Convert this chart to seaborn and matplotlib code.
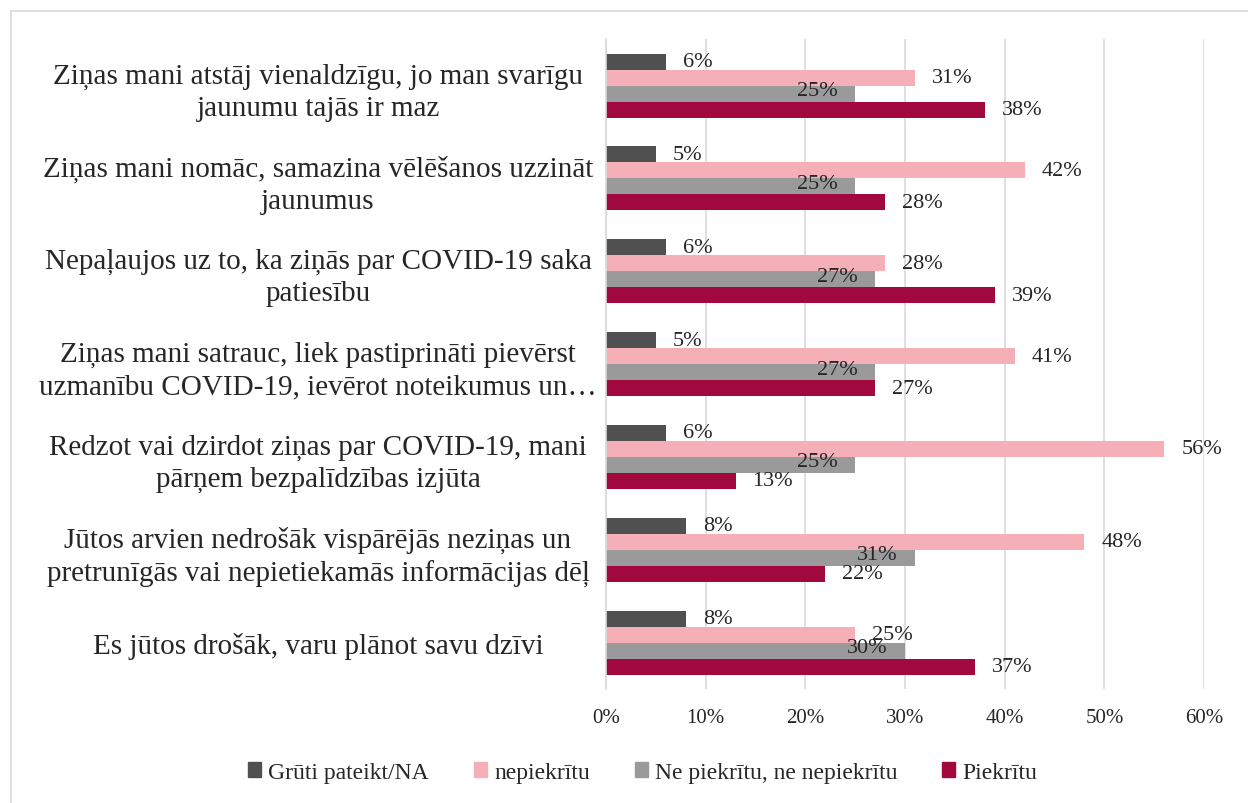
import matplotlib
matplotlib.use("Agg")
import matplotlib.pyplot as plt
import matplotlib.patches as mpatches
import pandas as pd
import seaborn as sns


statements = [
  "Ziņas mani atstāj vienaldzīgu, jo man svarīgu\njaunumu tajās ir maz",
  "Ziņas mani nomāc, samazina vēlēšanos uzzināt\njaunumus",
  "Nepaļaujos uz to, ka ziņās par COVID-19 saka\npatiesību",
  "Ziņas mani satrauc, liek pastiprināti pievērst\nuzmanību COVID-19, ievērot noteikumus un…",
  "Redzot vai dzirdot ziņas par COVID-19, mani\npārņem bezpalīdzības izjūta",
  "Jūtos arvien nedrošāk vispārējās neziņas un\npretrunīgās vai nepietiekamās informācijas dēļ",
  "Es jūtos drošāk, varu plānot savu dzīvi",
]
series_names = ["Grūti pateikt/NA", "nepiekrītu", "Ne piekrītu, ne nepiekrītu", "Piekrītu"]
hard_to_say = [6, 5, 6, 5, 6, 8, 8]
disagree = [31, 42, 28, 41, 56, 48, 25]
neutral = [25, 25, 27, 27, 25, 31, 30]
agree = [38, 28, 39, 27, 13, 22, 37]
ticks = [0, 10, 20, 30, 40, 50, 60]

colors = ["#505050", "#F5B0B7", "#9A9A9A", "#A0083E"]


def build_frame():
  rows = []
  for name, vals in zip(series_names, [hard_to_say, disagree, neutral, agree]):
    for stmt, v in zip(statements, vals):
      rows.append({"statement": stmt, "series": name, "value": v})
  return pd.DataFrame(rows)


def main():
  sns.set_style("white")
  plt.rcParams["font.family"] = ["Liberation Serif", "DejaVu Serif"]

  df = build_frame()
  fig = plt.figure(figsize=(12.48, 8.04), dpi=100)
  ax = fig.add_axes([0.4856, 0.1418, 0.4792, 0.8082])

  sns.barplot(
    data=df, y="statement", x="value", hue="series",
    order=statements, hue_order=series_names, palette=colors,
    orient="h", width=0.69, ax=ax, legend=False, saturation=1,
    linewidth=0,
  )

  ax.set_xlim(0, 60)
  ax.set_xticks(ticks)
  ax.set_xticklabels([f"{t}%" for t in ticks], fontsize=15)
  ax.tick_params(axis="x", length=0, pad=14)
  ax.tick_params(axis="y", length=0, pad=0)
  ax.set_xlabel("")
  ax.set_ylabel("")
  ax.set_yticks(range(len(statements)))
  ax.set_yticklabels(statements, fontsize=21, ha="center", linespacing=1.3)
  # center the wrapped labels around a fixed x left of the axis
  for lbl in ax.get_yticklabels():
    lbl.set_transform(ax.get_yaxis_transform())
    lbl.set_x(-0.4816)

  ax.grid(axis="x", color="#D9D9D9", linewidth=1.2)
  ax.set_axisbelow(True)
  for side in ["top", "right", "bottom"]:
    ax.spines[side].set_visible(False)
  ax.spines["left"].set_color("#D9D9D9")
  ax.spines["left"].set_linewidth(1.2)

  # data labels (gray ones sit inside the bar end, like the original)
  for container, name in zip(ax.containers, series_names):
    for bar in container:
      w = bar.get_width()
      yc = bar.get_y() + bar.get_height() / 2
      if name == "Ne piekrītu, ne nepiekrītu":
        ax.annotate(f"{w:.0f}%", (w, yc), xytext=(-17, 3), textcoords="offset pixels",
                    ha="right", va="center", fontsize=16)
      else:
        ax.annotate(f"{w:.0f}%", (w, yc), xytext=(17, 0), textcoords="offset pixels",
                    ha="left", va="center", fontsize=16)

  handles = [mpatches.Patch(color=c, label=n) for c, n in zip(colors, series_names)]
  fig.legend(handles=handles, loc="center", bbox_to_anchor=(0.515, 0.038), ncol=4,
             frameon=False, fontsize=17, handlelength=0.55, handleheight=0.6,
             handletextpad=0.3, columnspacing=1.9)

  border = mpatches.Rectangle((11 / 1248, -0.1), 1.2, (804 - 12) / 804 + 0.1,
                              transform=fig.transFigure, fill=False,
                              edgecolor="#D9D9D9", linewidth=1.2)
  fig.patches.append(border)

  fig.savefig("out.png", dpi=100)
  plt.close(fig)


if __name__ == "__main__":
  main()
